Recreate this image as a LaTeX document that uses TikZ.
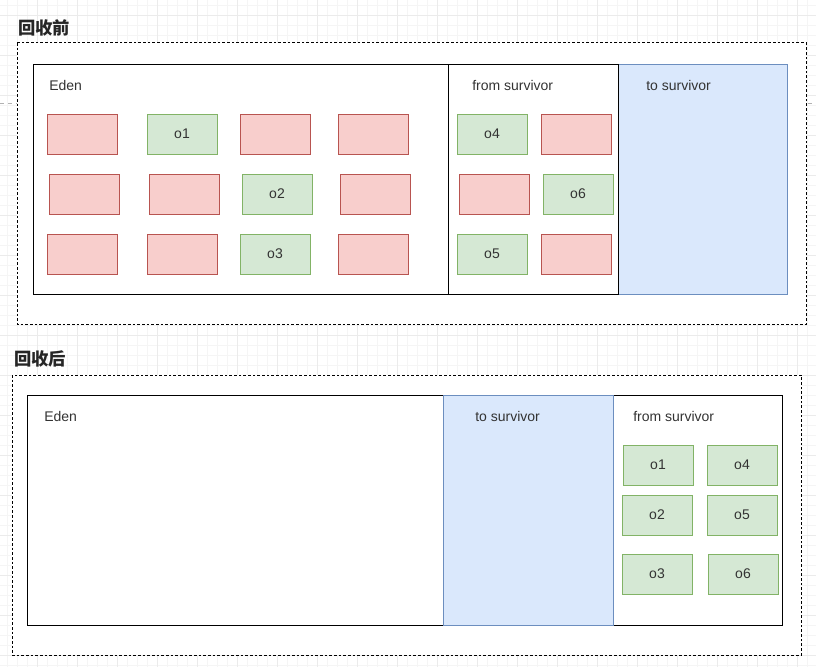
\documentclass[tikz,border=0pt]{standalone}
\usepackage{fontspec}
\setmainfont{Liberation Sans}
\newfontfamily\cjk{Noto Sans CJK SC}
\definecolor{redfill}{HTML}{F8CECC}
\definecolor{redline}{HTML}{B85450}
\definecolor{greenfill}{HTML}{D5E8D4}
\definecolor{greenline}{HTML}{82B366}
\definecolor{bluefill}{HTML}{DAE8FC}
\definecolor{blueline}{HTML}{6C8EBF}
\definecolor{textgray}{HTML}{333333}
\tikzset{
  minorgrid/.style={draw=black!4, line width=0.4pt},
  majorgrid/.style={draw=black!8, line width=0.5pt},
  frame/.style={draw=black, dashed, dash pattern=on 2pt off 1.5pt, line width=0.75pt, fill=white},
  space/.style={draw=black, line width=0.75pt, fill=white},
  tospace/.style={draw=blueline, line width=0.75pt, fill=bluefill},
  spacelabel/.style={anchor=west, inner sep=0pt, text=textgray, font=\fontsize{10.5}{12}\selectfont},
  title/.style={anchor=west, inner sep=0pt, text=black!85, font=\cjk\bfseries\fontsize{13}{15}\selectfont},
  obj/.style={minimum width=52.5pt, minimum height=30pt, inner sep=0pt, line width=0.75pt,
    text=textgray, font=\fontsize{10.5}{12}\selectfont},
  dead/.style={obj, draw=redline, fill=redfill},
  live/.style={obj, draw=greenline, fill=greenfill}
}
\begin{document}
\begin{tikzpicture}[x=0.75pt, y=-0.75pt]
  \useasboundingbox (0,0) rectangle (816,667);
  \fill[white] (0,0) rectangle (816,667);

  % background grid
  \foreach \gx in {7,17,...,816} \draw[minorgrid] (\gx,0) -- (\gx,667);
  \foreach \gy in {5,15,...,667} \draw[minorgrid] (0,\gy) -- (816,\gy);
  \foreach \gx in {37,77,...,816} \draw[majorgrid] (\gx,0) -- (\gx,667);
  \foreach \gy in {15,55,...,667} \draw[majorgrid] (0,\gy) -- (816,\gy);
  \draw[black!30, dashed, line width=0.5pt] (0,103) -- (816,103);

  %% before collection
  \node[title] (before) at (18,28) {回收前};
  \draw[frame] (17,43) rectangle (806,324);

  \draw[tospace] (618,65) rectangle (787,294);
  \draw[space] (33,65) rectangle (449,294);
  \draw[space] (448,65) rectangle (618,294);
  \node[spacelabel] (eden1) at (49,85) {Eden};
  \node[spacelabel] (from1) at (472,85) {from survivor};
  \node[spacelabel] (to1) at (646,85) {to survivor};

  % eden objects
  \node[dead] (e11) at (82,134) {};
  \node[live] (e12) at (182,134) {o1};
  \node[dead] (e13) at (275,134) {};
  \node[dead] (e14) at (373,134) {};
  \node[dead] (e21) at (84,194) {};
  \node[dead] (e22) at (184,194) {};
  \node[live] (e23) at (277,194) {o2};
  \node[dead] (e24) at (375,194) {};
  \node[dead] (e31) at (82,254) {};
  \node[dead] (e32) at (182,254) {};
  \node[live] (e33) at (275,254) {o3};
  \node[dead] (e34) at (373,254) {};

  % from survivor objects
  \node[live] (f11) at (492,134) {o4};
  \node[dead] (f12) at (576,134) {};
  \node[dead] (f21) at (494,194) {};
  \node[live] (f22) at (578,194) {o6};
  \node[live] (f31) at (492,254) {o5};
  \node[dead] (f32) at (576,254) {};

  %% after collection
  \node[title] (after) at (14,359) {回收后};
  \draw[frame] (12,375) rectangle (801,655);

  \draw[space] (27,395) rectangle (444,625);
  \draw[space] (613,395) rectangle (782,625);
  \draw[tospace] (443,395) rectangle (613,625);
  \node[spacelabel] (eden2) at (44,416) {Eden};
  \node[spacelabel] (to2) at (475,416) {to survivor};
  \node[spacelabel] (from2) at (633,416) {from survivor};

  \node[live] (s11) at (658,465) {o1};
  \node[live] (s12) at (742,465) {o4};
  \node[live] (s21) at (657,515) {o2};
  \node[live] (s22) at (742,515) {o5};
  \node[live] (s31) at (657,574) {o3};
  \node[live] (s32) at (743,574) {o6};
\end{tikzpicture}
\end{document}
